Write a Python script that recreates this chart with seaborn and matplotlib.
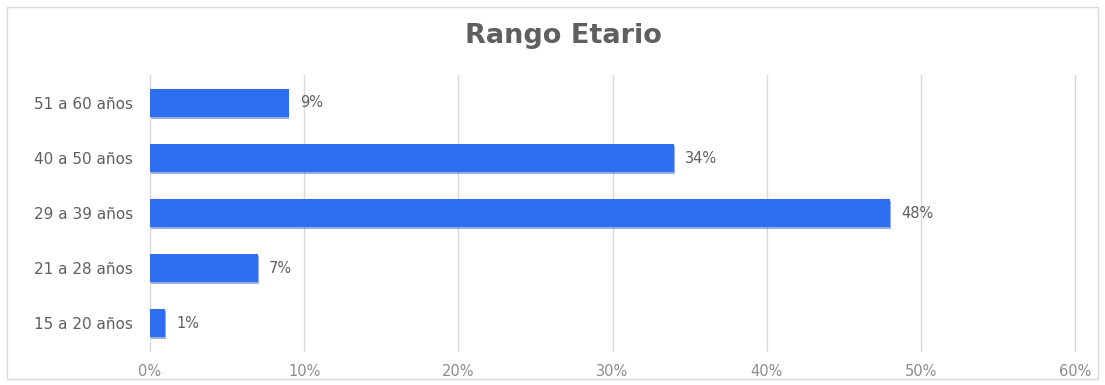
import matplotlib
matplotlib.use("Agg")
import matplotlib.pyplot as plt
import matplotlib.patheffects as pe
from matplotlib.patches import Rectangle
from matplotlib.ticker import MultipleLocator, PercentFormatter
import seaborn as sns
import pandas as pd

# Age ranges (top to bottom) and share of respondents, in percent
categories = ["51 a 60 años", "40 a 50 años", "29 a 39 años", "21 a 28 años", "15 a 20 años"]
shares = [9, 34, 48, 7, 1]
title = "Rango Etario"

df = pd.DataFrame({"rango": categories, "porcentaje": shares})

sns.set_theme(style="white")
plt.rcParams["font.family"] = ["DejaVu Sans"]

text_grey = "#5f5f5f"
tick_grey = "#8c8c8c"
bar_blue = "#2d6ff0"

fig = plt.figure(figsize=(11.05, 3.85), dpi=100)
ax = fig.add_axes([0.1357, 0.0896, 0.8372, 0.7143])

sns.barplot(data=df, x="porcentaje", y="rango", orient="h", color=bar_blue,
            saturation=1, width=0.5, ax=ax)

for bar in ax.patches:
    bar.set_edgecolor("none")
    bar.set_path_effects([pe.SimplePatchShadow(offset=(0.5, -1.5), shadow_rgbFace="#1d4fb0",
                                               alpha=0.45), pe.Normal()])

for bar, val in zip(ax.patches, shares):
    ax.annotate(f"{val}%", xy=(bar.get_width(), bar.get_y() + bar.get_height() / 2),
                xytext=(8, 0), textcoords="offset points", va="center", ha="left",
                fontsize=10.5, color=text_grey)

ax.set_xlim(0, 60)
ax.set_ylim(4.5, -0.5)
ax.xaxis.set_major_locator(MultipleLocator(10))
ax.xaxis.set_major_formatter(PercentFormatter(decimals=0))
ax.grid(axis="x", color="#d9d9d9", linewidth=1)
ax.set_axisbelow(True)
for line in ax.get_xgridlines():
    line.set_clip_on(False)
for s in ax.spines.values():
    s.set_visible(False)
ax.set_xlabel("")
ax.set_ylabel("")
ax.tick_params(axis="x", colors=tick_grey, labelsize=10.5, length=0, pad=10)
ax.tick_params(axis="y", colors=text_grey, labelsize=11, length=0, pad=12)
for lbl in ax.get_xticklabels():
    lbl.set_color(tick_grey)
for lbl in ax.get_yticklabels():
    lbl.set_color(text_grey)

fig.text(0.510, 0.888, title, ha="center", va="baseline", fontsize=19.5,
         fontweight="bold", color=text_grey)

# light frame around the chart
fig.patches.append(Rectangle((0.006, 0.015), 0.988, 0.968, transform=fig.transFigure,
                             fill=False, edgecolor="#d9d9d9", linewidth=1))

fig.savefig("out.png", dpi=100)
